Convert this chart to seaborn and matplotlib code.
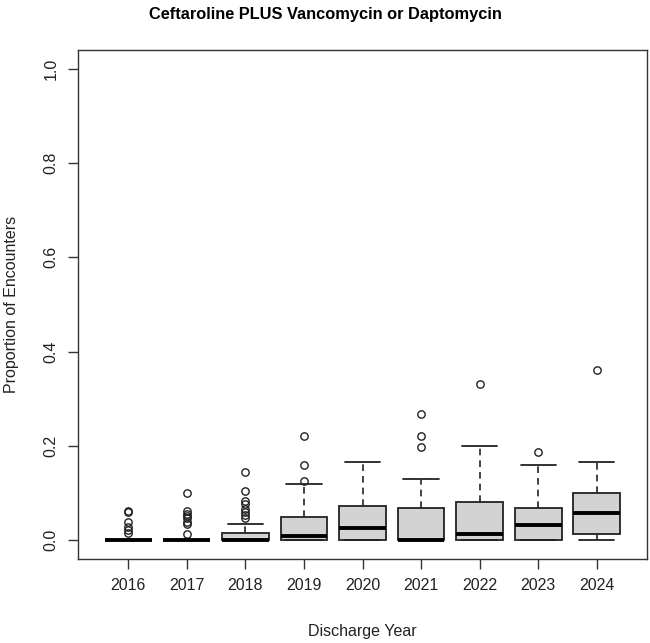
import numpy as np
import pandas as pd
import matplotlib
matplotlib.use("Agg")
import matplotlib.pyplot as plt
import seaborn as sns

years = [2016, 2017, 2018, 2019, 2020, 2021, 2022, 2023, 2024]
whisker_low = [0, 0, 0, 0, 0, 0, 0, 0, 0]
q1 = [0, 0, 0, 0, 0, 0, 0, 0, 0.012]
median = [0, 0, 0, 0.009, 0.025, 0, 0.0127, 0.0318, 0.058]
q3 = [0, 0, 0.0155, 0.049, 0.0727, 0.0678, 0.081, 0.0685, 0.099]
whisker_high = [0, 0, 0.034, 0.119, 0.166, 0.129, 0.199, 0.159, 0.165]
outliers = [
    [0.0625, 0.059, 0.038, 0.027, 0.021, 0.016],
    [0.100, 0.061, 0.056, 0.051, 0.046, 0.039, 0.034, 0.014],
    [0.145, 0.104, 0.083, 0.076, 0.067, 0.060, 0.053, 0.046],
    [0.125, 0.159, 0.220],
    [],
    [0.198, 0.220, 0.268],
    [0.332],
    [0.187],
    [0.362],
]

rows = []
for i, yr in enumerate(years):
    vals = ([whisker_low[i]] + [q1[i]] * 20 + [median[i]] * 20 + [q3[i]] * 20
            + [whisker_high[i]] + outliers[i])
    for v in vals:
        rows.append({"year": str(yr), "value": v})
df = pd.DataFrame(rows)

sns.set_style("white")
plt.rcParams["font.family"] = ["Liberation Sans", "DejaVu Sans"]

fig = plt.figure(figsize=(6.5, 6.43), dpi=100)
ax = fig.add_axes([78 / 650, 1 - 559 / 643, (647 - 78) / 650, (559 - 50) / 643])

sns.boxplot(
    data=df, x="year", y="value", ax=ax, color="#D3D3D3", saturation=1,
    width=0.8, linecolor="#222222", linewidth=1.3, capwidths=0.6,
    medianprops=dict(color="black", linewidth=2.8),
    whiskerprops=dict(linestyle=(0, (4, 3)), color="#222222", linewidth=1.2),
    capprops=dict(color="#222222", linewidth=1.3),
    flierprops=dict(marker="o", markerfacecolor="none", markeredgecolor="#222222",
                    markersize=5.3, markeredgewidth=1.0),
)

ax.set_xlim(-0.86, 8.86)
ax.set_ylim(-0.04, 1.04)
ax.set_yticks([0, 0.2, 0.4, 0.6, 0.8, 1.0])
ax.set_yticklabels(["0.0", "0.2", "0.4", "0.6", "0.8", "1.0"], rotation=90, va="center")
for s in ax.spines.values():
    s.set_visible(True)
    s.set_color("#333333")
    s.set_linewidth(1.0)
ax.tick_params(axis="both", direction="out", length=7, width=1.0, color="#333333",
               labelsize=11.5, labelcolor="#222222", pad=7, left=True, bottom=True)
ax.set_xlabel("Discharge Year", fontsize=11.5, color="#222222", labelpad=22)
ax.set_ylabel("Proportion of Encounters", fontsize=11.5, color="#222222", labelpad=18)
fig.text(0.5, 1 - 14 / 643, "Ceftaroline PLUS Vancomycin or Daptomycin",
         ha="center", va="center", fontsize=11.8, fontweight="bold", color="black")

fig.savefig("out.png", dpi=100, facecolor="white")
